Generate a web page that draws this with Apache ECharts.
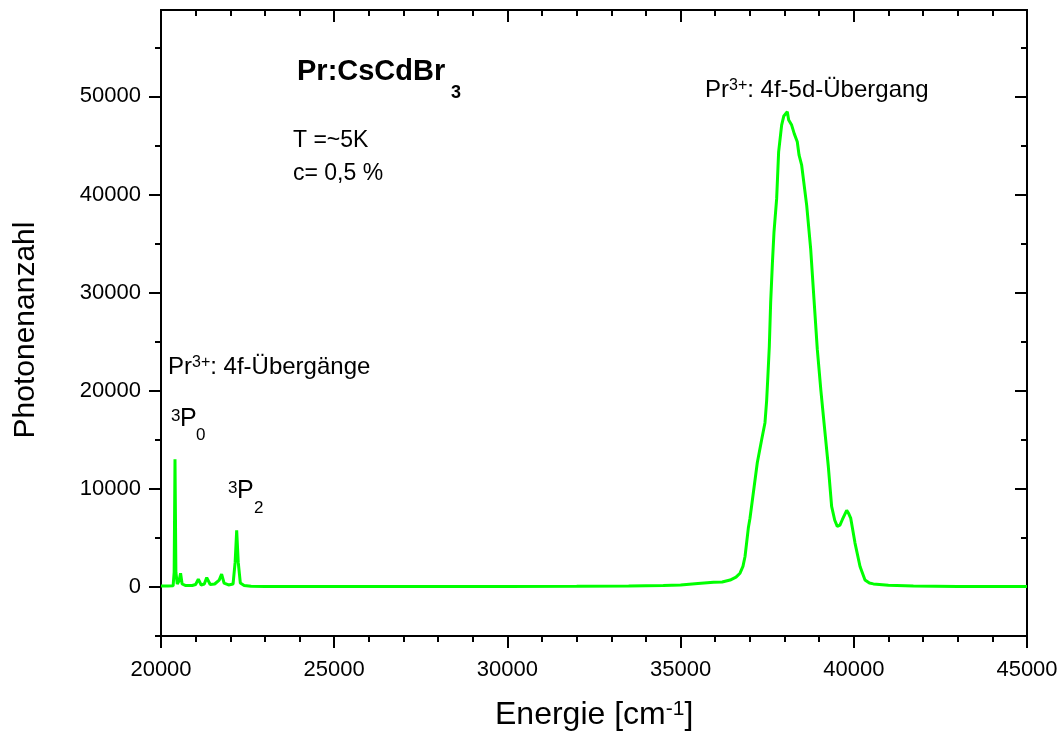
<!DOCTYPE html>
<html>
<head>
<meta charset="utf-8">
<title>Pr:CsCdBr3 Spektrum</title>
<script src="https://cdn.jsdelivr.net/npm/echarts@6.0.0/dist/echarts.min.js"></script>
<style>
  html, body { margin: 0; padding: 0; background: #fff; }
  #chart { width: 1063px; height: 738px; }
</style>
</head>
<body>
<div id="chart"></div>
<script>
// Energie [cm-1]
const energy = [
  20000, 20200, 20350, 20380, 20404, 20430, 20470, 20520, 20565, 20610,
  20700, 20900, 21000, 21077, 21160, 21250, 21320, 21420, 21550, 21680,
  21750, 21820, 21950, 22080, 22140, 22185, 22230, 22290, 22400, 22600,
  23000, 25000, 28000, 30000, 32000, 33500, 34500, 35000, 35500, 35950,
  36200, 36430, 36600, 36715, 36800, 36860, 36955, 37003, 37099, 37214,
  37341, 37436, 37484, 37520, 37561, 37600, 37650, 37696, 37773, 37830,
  37917, 37980, 38030, 38080, 38120, 38206, 38280, 38368, 38420, 38495,
  38640, 38755, 38850, 38946, 39050, 39140, 39264, 39360, 39450, 39523,
  39600, 39668, 39795, 39850, 39910, 40035, 40180, 40323, 40450, 40565,
  41000, 41720, 43000, 45000
]
// Photonenanzahl
const photons = [
  100, 100, 120, 1500, 13000, 1500, 300, 600, 1400, 300,
  150, 150, 250, 790, 200, 300, 950, 250, 300, 700,
  1300, 400, 200, 300, 2500, 5760, 2500, 400, 150, 60,
  50, 50, 40, 50, 60, 100, 150, 200, 350, 480,
  500, 700, 1000, 1400, 2100, 3100, 6000, 7000, 9580, 12650,
  15030, 16740, 19000, 21500, 24500, 29000, 33000, 36170, 39570, 44340,
  47070, 48000, 47800, 48430, 47600, 47070, 46200, 45370, 44000, 42980,
  38890, 34460, 29350, 24230, 20000, 16740, 12300, 8210, 6800, 6170,
  6300, 6850, 7800, 7500, 7020, 4470, 2080, 715, 400, 310,
  180, 100, 50, 50
]

const yMajorTicks = [0, 10000, 20000, 30000, 40000, 50000]
const yMinorTicks = [-5000, 5000, 15000, 25000, 35000, 45000, 55000]

const FONT = "'Liberation Sans', Arial, sans-serif"
const chart = echarts.init(document.getElementById('chart'))

const lineStyle = { color: '#000', width: 2 }
const plain = v => String(v)

function yAxisBase(pos, values, len, inside, labels) {
  return {
    type: 'value',
    position: pos,
    min: -5000,
    max: 58800,
    axisLine: { show: true, onZero: false, lineStyle: lineStyle },
    axisTick: { show: true, inside: inside, length: len, lineStyle: lineStyle, customValues: values },
    axisLabel: labels ? {
      show: true, customValues: values, margin: 20, formatter: plain,
      color: '#000', fontSize: 22, fontFamily: FONT
    } : { show: false },
    splitLine: { show: false }
  }
}

function xAxisBase(pos, inside, labels) {
  return {
    type: 'value',
    position: pos,
    min: 20000,
    max: 45000,
    interval: 5000,
    axisLine: { show: true, onZero: false, lineStyle: lineStyle },
    axisTick: { show: true, inside: inside, length: 12, lineStyle: lineStyle },
    minorTick: { show: true, splitNumber: 5, length: 6, lineStyle: lineStyle },
    axisLabel: labels ? {
      show: true, margin: 23, formatter: plain, color: '#000', fontSize: 22, fontFamily: FONT
    } : { show: false },
    splitLine: { show: false }
  }
}

const option = {
  backgroundColor: '#fff',
  animation: false,
  grid: { left: 161, right: 36, top: 10, bottom: 102 },
  xAxis: [
    xAxisBase('bottom', false, true),
    xAxisBase('top', true, false)
  ],
  yAxis: [
    yAxisBase('left', yMajorTicks, 12, false, true),
    yAxisBase('left', yMinorTicks, 6, false, false),
    yAxisBase('right', yMajorTicks, 12, true, false),
    yAxisBase('right', yMinorTicks, 6, true, false)
  ],
  series: [
    {
      type: 'line',
      xAxisIndex: 0,
      yAxisIndex: 0,
      data: energy.map((e, i) => [e, photons[i]]),
      showSymbol: false,
      lineStyle: { color: '#00ff00', width: 3 },
      z: 3
    }
  ],
  graphic: [
    // Achsentitel
    {
      type: 'text', x: 26, y: 330, rotation: Math.PI / 2,
      style: { text: 'Photonenanzahl', fontSize: 30, fontFamily: FONT, fill: '#000', align: 'center', verticalAlign: 'middle' }
    },
    {
      type: 'text', x: 495, y: 715,
      style: {
        text: '{a|Energie [cm}{s|-1}{a|]}', fill: '#000', align: 'left', verticalAlign: 'middle',
        rich: {
          a: { fontSize: 32, lineHeight: 32, fontFamily: FONT, fill: '#000' },
          s: { fontSize: 21, lineHeight: 21, fontFamily: FONT, fill: '#000', verticalAlign: 'top' }
        }
      }
    },
    // Probe
    {
      type: 'text', x: 297, y: 72,
      style: { text: 'Pr:CsCdBr', fontSize: 29, fontWeight: 'bold', fontFamily: FONT, fill: '#000', align: 'left', verticalAlign: 'middle' }
    },
    {
      type: 'text', x: 451, y: 93,
      style: { text: '3', fontSize: 18, fontWeight: 'bold', fontFamily: FONT, fill: '#000', align: 'left', verticalAlign: 'middle' }
    },
    {
      type: 'text', x: 293, y: 141,
      style: { text: 'T =~5K', fontSize: 23, fontFamily: FONT, fill: '#000', align: 'left', verticalAlign: 'middle' }
    },
    {
      type: 'text', x: 293, y: 174,
      style: { text: 'c= 0,5 %', fontSize: 23, fontFamily: FONT, fill: '#000', align: 'left', verticalAlign: 'middle' }
    },
    // Übergänge
    {
      type: 'text', x: 705, y: 90,
      style: {
        text: '{a|Pr}{s|3+}{a|: 4f-5d-Übergang}', align: 'left', verticalAlign: 'middle',
        rich: {
          a: { fontSize: 24, lineHeight: 24, fontFamily: FONT, fill: '#000' },
          s: { fontSize: 16, lineHeight: 16, fontFamily: FONT, fill: '#000', verticalAlign: 'top' }
        }
      }
    },
    {
      type: 'text', x: 168, y: 367,
      style: {
        text: '{a|Pr}{s|3+}{a|: 4f-Übergänge}', align: 'left', verticalAlign: 'middle',
        rich: {
          a: { fontSize: 24, lineHeight: 24, fontFamily: FONT, fill: '#000' },
          s: { fontSize: 16, lineHeight: 16, fontFamily: FONT, fill: '#000', verticalAlign: 'top' }
        }
      }
    },
    // 3P0
    { type: 'text', x: 171, y: 416, style: { text: '3', fontSize: 17, fontFamily: FONT, fill: '#000', verticalAlign: 'middle' } },
    { type: 'text', x: 180, y: 419, style: { text: 'P', fontSize: 25, fontFamily: FONT, fill: '#000', verticalAlign: 'middle' } },
    { type: 'text', x: 196, y: 435, style: { text: '0', fontSize: 17, fontFamily: FONT, fill: '#000', verticalAlign: 'middle' } },
    // 3P2
    { type: 'text', x: 228, y: 488, style: { text: '3', fontSize: 17, fontFamily: FONT, fill: '#000', verticalAlign: 'middle' } },
    { type: 'text', x: 237, y: 491, style: { text: 'P', fontSize: 25, fontFamily: FONT, fill: '#000', verticalAlign: 'middle' } },
    { type: 'text', x: 254, y: 508, style: { text: '2', fontSize: 17, fontFamily: FONT, fill: '#000', verticalAlign: 'middle' } }
  ]
}

chart.setOption(option)
</script>
</body>
</html>
